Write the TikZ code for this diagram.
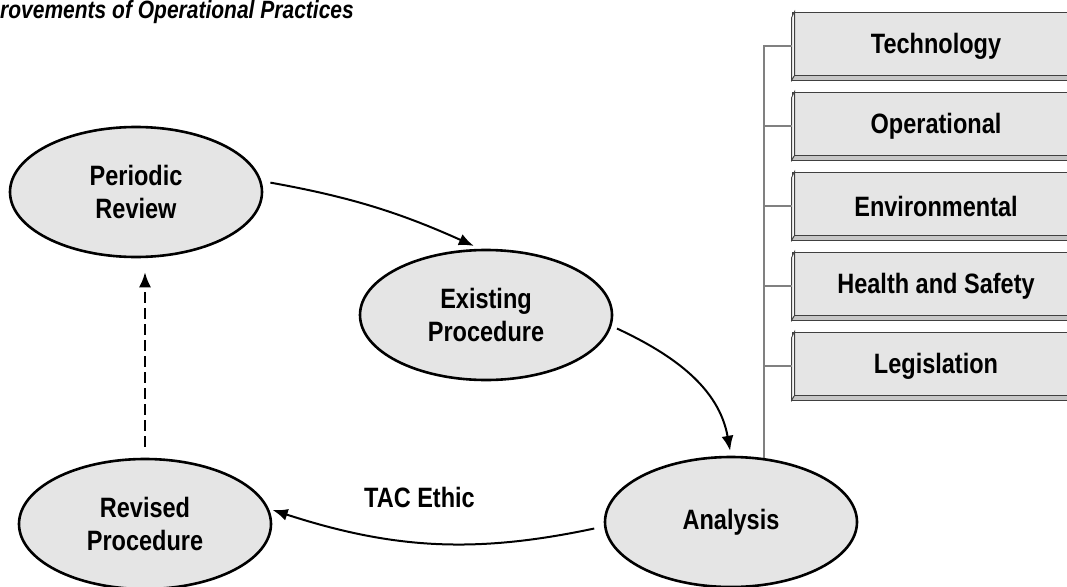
\documentclass[tikz,border=0pt]{standalone}
\usepackage{fontspec}
\setmainfont{Liberation Sans}[FakeStretch=0.84]
\usepackage{tikz}
\usetikzlibrary{shapes,arrows.meta,positioning,calc,backgrounds}

\newcommand{\lblfont}{\fontsize{28}{33}\selectfont\bfseries}
\newcommand{\headfont}{\fontsize{25}{28}\selectfont\bfseries\itshape}

\begin{document}
\begin{tikzpicture}[x=1pt, y=-1pt,
    proc/.style={ellipse, draw, line width=2.6pt, fill=gray!20, minimum width=252pt, minimum height=130pt, inner sep=0pt, align=center, font=\lblfont},
    factor/.style={rectangle, draw=black!75, line width=0.8pt, fill=gray!20, minimum width=288pt, minimum height=68pt, inner sep=0pt, font=\lblfont},
    bevel/.style={draw=black!75, line width=0.8pt},
    flow/.style={-{Latex[length=15pt,width=12pt]}, line width=2pt},
    link/.style={draw=gray, line width=1.4pt}]
    \clip (0,0) rectangle (1067,586);

    \node[anchor=west, inner sep=0pt, font=\headfont] (title) at (0,12) {rovements of Operational Practices};

    % cycle of procedures
    \node[proc] (pr) at (136,192) {Periodic\\Review};
    \node[proc] (ex) at (486,315) {Existing\\Procedure};
    \node[proc] (an) at (731,522) {Analysis};
    \node[proc] (rv) at (145,524) {Revised\\Procedure};

    \draw[flow, shorten <=9pt, shorten >=7pt] (pr.5) to[bend left=7] (ex.95);
    \draw[flow, shorten <=6pt, shorten >=5pt] (ex.-5) to[out=-25, in=100] (an.north);
    \draw[flow, shorten <=10pt, shorten >=4pt] (an.182) to[bend left=15] node[pos=0.55, above=30pt, font=\lblfont] (tac) {TAC Ethic} (rv.7);
    \draw[flow, dash pattern=on 11pt off 5pt, shorten <=11pt, shorten >=14pt] (rv.north) -- (rv.north |- pr.south);

    % factors feeding the analysis
    \coordinate (trunk) at (764,45);
    \foreach \n/\t/\yc in {tech/Technology/46, oper/Operational/126, env/Environmental/206, hs/Health and Safety/286, leg/Legislation/366} {
        \node[factor] (\n) at (936,\yc) {\t};
        \filldraw[bevel, fill=gray!6] ($(\n.north west)+(0,6)$) -- ($(\n.north west)+(3,0)$) -- ($(\n.south west)+(3,-5)$) -- (\n.south west) -- cycle;
        \filldraw[bevel, fill=gray!45] (\n.south west) -- ($(\n.south west)+(3,-5)$) -- ($(\n.south east)+(0,-5)$) -- (\n.south east) -- cycle;
        \draw[link] (trunk |- \n.west) -- (\n.west);
    }
    \begin{scope}[on background layer]
        \draw[link] (trunk) -- (trunk |- an.center);
    \end{scope}
\end{tikzpicture}
\end{document}
